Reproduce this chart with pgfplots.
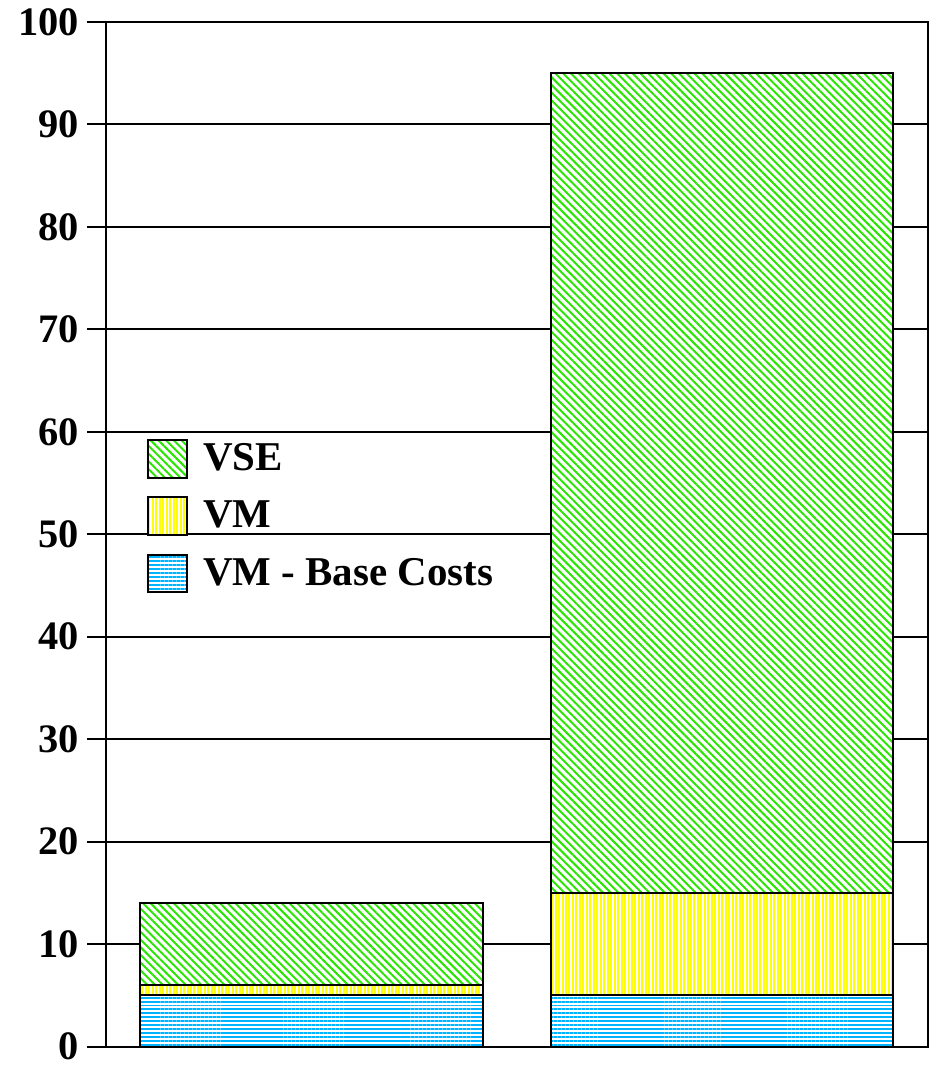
\documentclass[border=0pt]{standalone}
\usepackage{pgfplots}
\pgfplotsset{compat=1.18}
\usepackage{fontspec}
\setmainfont{Liberation Serif}
\usetikzlibrary{patterns.meta}
\definecolor{vsegreen}{RGB}{40,230,0}
\definecolor{vmyellow}{RGB}{255,255,0}
\definecolor{baseblue}{RGB}{0,180,255}
\begin{document}
\begin{tikzpicture}
\begin{axis}[
  at={(0,0)}, anchor=south west,
  scale only axis, width=331.2pt, height=413.2pt,
  xmin=-0.5, xmax=1.5, ymin=0, ymax=100,
  ybar stacked, bar width=0.833,
  xtick=\empty,
  ytick={0,10,...,100},
  ytick pos=left,
  tick align=outside,
  major tick length=7.6pt,
  ymajorgrids, grid style={black, line width=0.8pt},
  axis line style={line width=0.9pt},
  tick style={black, line width=0.8pt},
  yticklabel style={font=\fontsize{16.3}{19}\selectfont\bfseries, inner sep=0pt, xshift=-3.2pt},
  /pgf/number format/assume math mode=true,
  legend style={at={(0.049,0.593)}, anchor=north west, draw=none, fill=none, inner sep=0pt,
    font=\fontsize{16.5}{19}\selectfont\bfseries, row sep=7pt, nodes={inner sep=1pt}},
  legend cell align=left,
  reverse legend,
  legend image code/.code={\draw[#1] (0pt,-7.6pt) rectangle (15.6pt,7.6pt); \path (21pt,0pt);},
]
\addplot[draw=black, line width=0.8pt, fill=white,
  postaction={pattern={Lines[angle=0,distance=1.6pt,line width=0.8pt]}, pattern color=baseblue}]
  coordinates {(0,5) (1,5)};
\addlegendentry{VM - Base Costs}
\addplot[draw=black, line width=0.8pt, fill=white,
  postaction={pattern={Lines[angle=90,distance=1.4pt,line width=0.8pt]}, pattern color=vmyellow}]
  coordinates {(0,1) (1,10)};
\addlegendentry{VM}
\addplot[draw=black, line width=0.8pt, fill=white,
  postaction={pattern={Lines[angle=-45,distance=2.2pt,line width=0.8pt]}, pattern color=vsegreen}]
  coordinates {(0,8) (1,80)};
\addlegendentry{VSE}
\end{axis}
\path (-42.8pt,-9pt) rectangle (333.2pt,422pt);
\end{tikzpicture}
\end{document}
